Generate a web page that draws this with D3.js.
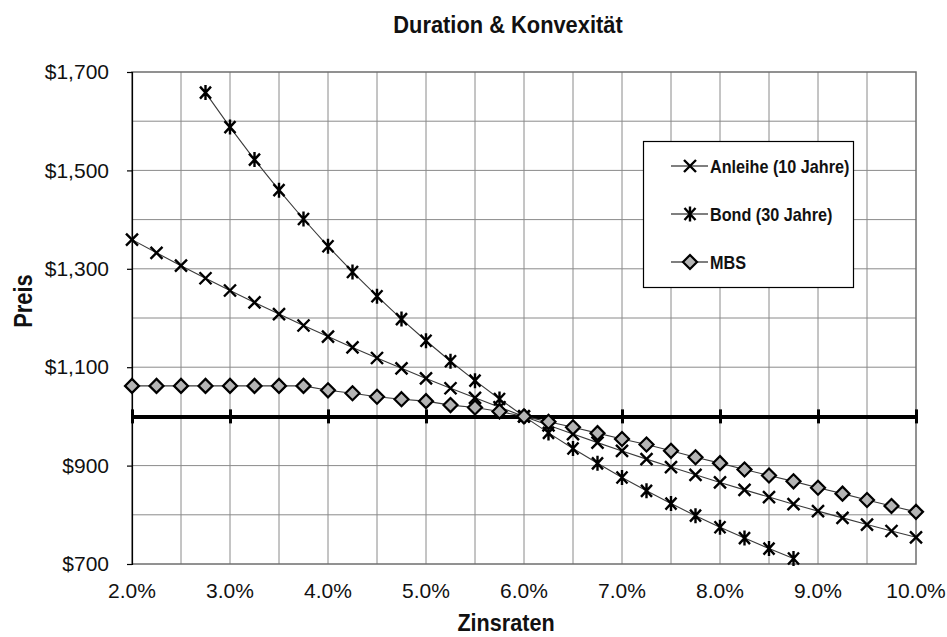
<!DOCTYPE html>
<html>
<head>
<meta charset="utf-8">
<script src="https://cdn.jsdelivr.net/npm/d3@7"></script>
<style>
  html, body { margin: 0; padding: 0; background: #ffffff; }
  svg { display: block; font-family: "Liberation Sans", Arial, Helvetica, sans-serif; }
</style>
</head>
<body>
<svg id="chart" width="947" height="637"></svg>
<script>
// Zinssätze (x-Werte, 0,25-%-Schritte)
const rates = [0.02, 0.0225, 0.025, 0.0275, 0.03, 0.0325, 0.035, 0.0375, 0.04, 0.0425, 0.045, 0.0475,
  0.05, 0.0525, 0.055, 0.0575, 0.06, 0.0625, 0.065, 0.0675, 0.07, 0.0725, 0.075, 0.0775,
  0.08, 0.0825, 0.085, 0.0875, 0.09, 0.0925, 0.095, 0.0975, 0.10];

// Preise je Zinssatz
const anleihe10 = [1359.3, 1332.5, 1306.3, 1280.8, 1255.9, 1231.6, 1207.9, 1184.8, 1162.2, 1140.2, 1118.7, 1097.7,
  1077.2, 1057.2, 1037.7, 1018.6, 1000.0, 981.8, 964.1, 946.7, 929.8, 913.2, 897.0, 881.2,
  865.8, 850.7, 836.0, 821.6, 807.5, 793.7, 780.2, 767.1, 754.2];
const bond30 = [null, null, null, 1658.1, 1588.0, 1522.0, 1459.8, 1401.2, 1345.8, 1293.6, 1244.3, 1197.8,
  1153.7, 1112.1, 1072.7, 1035.4, 1000.0, 966.5, 934.7, 904.6, 875.9, 848.7, 822.8, 798.3,
  774.8, 752.6, 731.3, 711.1, null, null, null, null, null];
const mbs = [1062, 1062, 1062, 1062, 1062, 1062, 1062, 1062, 1053, 1047, 1040, 1035,
  1031, 1023, 1018, 1010, 1000, 989, 978, 966, 954, 943, 930, 917,
  905, 892, 880, 868, 855, 843, 830, 818, 806];

const seriesNames = ["Anleihe (10 Jahre)", "Bond (30 Jahre)", "MBS"];
const xTickValues = [0.02, 0.03, 0.04, 0.05, 0.06, 0.07, 0.08, 0.09, 0.10];
const xGridValues = [0.025, 0.03, 0.035, 0.04, 0.045, 0.05, 0.055, 0.06, 0.065, 0.07, 0.075, 0.08, 0.085, 0.09, 0.095];
const yTickValues = [700, 900, 1100, 1300, 1500, 1700];
const yGridValues = [800, 900, 1000, 1100, 1200, 1300, 1400, 1500, 1600];
const parValue = 1000;

const svg = d3.select("#chart");
const plot = { left: 132, right: 916, top: 72, bottom: 564 };

const x = d3.scaleLinear().domain([0.02, 0.10]).range([plot.left, plot.right]);
const y = d3.scaleLinear().domain([700, 1700]).range([plot.bottom, plot.top]);

// condensed text helper: horizontal squeeze around the anchor
function placeText(sel, px, py, sx, rot) {
  sel.attr("x", 0).attr("y", 0)
     .attr("transform", `translate(${px},${py})${rot ? ` rotate(${rot})` : ""} scale(${sx},1)`);
  return sel;
}

// Gitternetz
const grid = svg.append("g").attr("class", "grid");
grid.selectAll("line.v").data(xGridValues).join("line")
  .attr("x1", d => x(d)).attr("x2", d => x(d))
  .attr("y1", plot.top).attr("y2", plot.bottom)
  .attr("stroke", "#8a8a8a").attr("stroke-width", 1);
grid.selectAll("line.h").data(yGridValues).join("line")
  .attr("x1", plot.left).attr("x2", plot.right)
  .attr("y1", d => y(d)).attr("y2", d => y(d))
  .attr("stroke", "#8a8a8a").attr("stroke-width", 1);

// Rahmen der Zeichenfläche
svg.append("rect")
  .attr("x", plot.left).attr("y", plot.top)
  .attr("width", plot.right - plot.left).attr("height", plot.bottom - plot.top)
  .attr("fill", "none").attr("stroke", "#6e6e6e").attr("stroke-width", 1.5);

// y-Achse
const yAxis = d3.axisLeft(y).tickValues(yTickValues).tickSize(5).tickPadding(18)
  .tickFormat(d => "$" + d3.format(",")(d));
const gy = svg.append("g").attr("transform", `translate(${plot.left},0)`).call(yAxis);
gy.select(".domain").attr("stroke", "#000").attr("stroke-width", 1.2);
gy.selectAll(".tick line").attr("stroke", "#000").attr("stroke-width", 1.2);
gy.selectAll(".tick text").attr("font-size", 21).attr("fill", "#111")
  .attr("font-family", "'Liberation Sans', Arial, sans-serif");

// x-Achse kreuzt bei $1.000
const xAxis = d3.axisBottom(x).tickValues(xTickValues).tickSize(0).tickFormat("");
const gx = svg.append("g").attr("transform", `translate(0,${y(parValue)})`).call(xAxis);
gx.select(".domain").attr("stroke", "#000").attr("stroke-width", 4);
gx.selectAll(".tick line")
  .attr("y1", -7).attr("y2", 7)
  .attr("stroke", "#000").attr("stroke-width", 3);

// x-Beschriftung am unteren Rand
svg.append("g").selectAll("text").data(xTickValues).join("text")
  .attr("x", d => x(d)).attr("y", 598)
  .attr("text-anchor", "middle").attr("font-size", 21).attr("fill", "#111")
  .text(d => d3.format(".1%")(d));

// Linien
const seriesData = [anleihe10, bond30, mbs];
const line = d3.line()
  .defined(d => d.v != null)
  .x(d => x(d.r)).y(d => y(d.v));
const pts = seriesData.map(arr => rates.map((r, i) => ({ r, v: arr[i] })));

svg.append("g").selectAll("path").data(pts).join("path")
  .attr("d", line).attr("fill", "none")
  .attr("stroke", "#3a3a3a").attr("stroke-width", 1.1);

// Marker
const markerPath = {
  cross: "M-6,-6L6,6M-6,6L6,-6",
  star: "M-5.5,-6L5.5,6M-5.5,6L5.5,-6M0,-7.5L0,7.5",
  diamond: "M0,-7L7,0L0,7L-7,0Z"
};
const markerKinds = ["cross", "star", "diamond"];

function drawMarker(g, kind) {
  if (kind === "diamond") {
    g.append("path").attr("d", markerPath.diamond)
      .attr("fill", "#b4b4b4").attr("stroke", "#000").attr("stroke-width", 2.2)
      .attr("stroke-linejoin", "miter");
  } else {
    g.append("path").attr("d", markerPath[kind])
      .attr("fill", "none").attr("stroke", "#000").attr("stroke-width", 2.4);
  }
}

pts.forEach((arr, si) => {
  const g = svg.append("g");
  arr.filter(d => d.v != null).forEach(d => {
    const m = g.append("g").attr("transform", `translate(${x(d.r)},${y(d.v)})`);
    drawMarker(m, markerKinds[si]);
  });
});

// Legende
const legend = svg.append("g");
legend.append("rect")
  .attr("x", 643.5).attr("y", 141.5).attr("width", 210).attr("height", 146)
  .attr("fill", "#fff").attr("stroke", "#000").attr("stroke-width", 1.2);
const legendY = [166, 214, 262];
seriesNames.forEach((name, i) => {
  const ly = legendY[i];
  legend.append("line").attr("x1", 671).attr("x2", 708).attr("y1", ly).attr("y2", ly)
    .attr("stroke", "#000").attr("stroke-width", 1.1);
  const m = legend.append("g").attr("transform", `translate(690,${ly})`);
  drawMarker(m, markerKinds[i]);
  placeText(legend.append("text"), 710, ly + 6.5, 0.9, 0)
    .attr("font-size", 18).attr("font-weight", "bold").attr("fill", "#111")
    .text(name);
});

// Titel und Achsentitel
placeText(svg.append("text"), 508, 33, 0.95, 0)
  .attr("text-anchor", "middle").attr("font-size", 23).attr("font-weight", "bold").attr("fill", "#111")
  .text("Duration & Konvexität");

placeText(svg.append("text"), 506, 631, 0.9, 0)
  .attr("text-anchor", "middle").attr("font-size", 24).attr("font-weight", "bold").attr("fill", "#111")
  .text("Zinsraten");

placeText(svg.append("text"), 32, 301, 0.84, -90)
  .attr("text-anchor", "middle").attr("font-size", 26).attr("font-weight", "bold").attr("fill", "#111")
  .text("Preis");
</script>
</body>
</html>
